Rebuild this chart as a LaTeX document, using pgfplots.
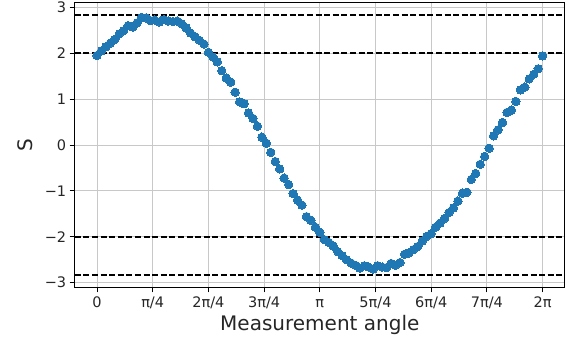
\documentclass[border=0pt]{standalone}
\usepackage{pgfplots}
\pgfplotsset{compat=1.18}
\usepackage{pgfplotstable}
\usepackage{fontspec}
\setmainfont{DejaVu Sans}

\definecolor{c0}{HTML}{1F77B4}
\definecolor{gridgray}{HTML}{C8C8C8}

% CHSH value S against measurement angle (radians)
\pgfplotstableread{
theta S
0.0000 1.95
0.0628 2.05
0.1257 2.14
0.1885 2.22
0.2513 2.30
0.3142 2.42
0.3770 2.49
0.4398 2.60
0.5027 2.57
0.5655 2.66
0.6283 2.78
0.6912 2.77
0.7540 2.71
0.8168 2.72
0.8796 2.68
0.9425 2.73
1.0053 2.70
1.0681 2.69
1.1310 2.70
1.1938 2.64
1.2566 2.55
1.3195 2.44
1.3823 2.36
1.4451 2.28
1.5080 2.20
1.5708 2.02
1.6336 1.92
1.6965 1.81
1.7593 1.62
1.8221 1.46
1.8850 1.37
1.9478 1.15
2.0106 0.94
2.0735 0.90
2.1363 0.70
2.1991 0.58
2.2619 0.41
2.3248 0.17
2.3876 0.04
2.4504 -0.16
2.5133 -0.36
2.5761 -0.52
2.6389 -0.72
2.7018 -0.86
2.7646 -1.06
2.8274 -1.20
2.8903 -1.31
2.9531 -1.56
3.0159 -1.64
3.0788 -1.79
3.1416 -1.90
3.2044 -2.06
3.2673 -2.12
3.3301 -2.20
3.3929 -2.32
3.4558 -2.41
3.5186 -2.50
3.5814 -2.57
3.6442 -2.62
3.7071 -2.68
3.7699 -2.63
3.8327 -2.66
3.8956 -2.70
3.9584 -2.63
4.0212 -2.66
4.0841 -2.67
4.1469 -2.58
4.2097 -2.62
4.2726 -2.56
4.3354 -2.38
4.3982 -2.35
4.4611 -2.28
4.5239 -2.21
4.5867 -2.09
4.6496 -1.99
4.7124 -1.93
4.7752 -1.79
4.8381 -1.70
4.9009 -1.60
4.9637 -1.47
5.0265 -1.37
5.0894 -1.22
5.1522 -1.05
5.2150 -1.03
5.2779 -0.75
5.3407 -0.62
5.4035 -0.42
5.4664 -0.25
5.5292 -0.07
5.5920 0.20
5.6549 0.33
5.7177 0.49
5.7805 0.71
5.8434 0.76
5.9062 0.95
5.9690 1.20
6.0319 1.26
6.0947 1.44
6.1575 1.54
6.2204 1.66
6.2832 1.94
}\chsh

\begin{document}
\begin{tikzpicture}
\path[use as bounding box] (-74.7pt,-51.7pt) rectangle (494.3pt,287.3pt);
\begin{axis}[
  at={(0pt,0pt)}, anchor=south west,
  scale only axis,
  width=490.2pt, height=284.6pt,
  xmin=-0.3142, xmax=6.5974,
  ymin=-3.1, ymax=3.1,
  xtick={0,0.7854,1.5708,2.3562,3.1416,3.9270,4.7124,5.4978,6.2832},
  xticklabels={0,π/4,2π/4,3π/4,π,5π/4,6π/4,7π/4,2π},
  ytick={-3,-2,-1,0,1,2,3},
  yticklabels={−3,−2,−1,0,1,2,3},
  tick align=outside,
  major tick length=5pt,
  tick style={black, line width=0.9pt},
  xtick pos=bottom, ytick pos=left,
  grid=major,
  major grid style={gridgray, line width=0.9pt},
  axis line style={black, line width=0.9pt},
  ticklabel style={font=\fontsize{14.5}{17}\selectfont, text=black!85},
  xticklabel style={anchor=north, text height=10.5pt, text depth=0pt, yshift=-1pt},
  xlabel={Measurement angle},
  ylabel={S},
  label style={font=\fontsize{20}{24}\selectfont, text=black!85},
  xlabel style={at={(axis description cs:0.5,-0.132)}, anchor=center},
  ylabel style={at={(axis description cs:-0.101,0.5)}, anchor=center},
  clip=true,
]
% classical bound and Tsirelson bound
\addplot[black, line width=1.5pt, dash pattern=on 6pt off 2.6pt] coordinates {(-0.3142,2) (6.5974,2)};
\addplot[black, line width=1.5pt, dash pattern=on 6pt off 2.6pt] coordinates {(-0.3142,-2) (6.5974,-2)};
\addplot[black, line width=1.5pt, dash pattern=on 6pt off 2.6pt] coordinates {(-0.3142,2.8284) (6.5974,2.8284)};
\addplot[black, line width=1.5pt, dash pattern=on 6pt off 2.6pt] coordinates {(-0.3142,-2.8284) (6.5974,-2.8284)};
% measured points
\addplot[only marks, color=c0, mark=*, mark size=4.2pt, mark options={solid, draw=c0, fill=c0, line width=0pt}] table[x=theta, y=S] {\chsh};
\end{axis}
\end{tikzpicture}
\end{document}
